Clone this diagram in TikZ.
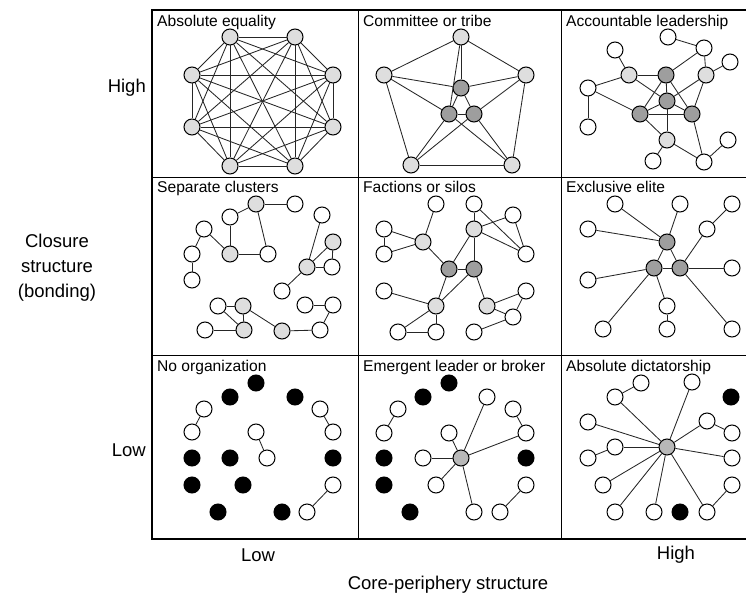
\documentclass[tikz,border=0pt]{standalone}
\usepackage{fontspec}
\setmainfont{Liberation Sans}
\definecolor{lightg}{gray}{0.87}
\definecolor{darkg}{gray}{0.62}
\definecolor{midg}{gray}{0.72}
\begin{document}
\begin{tikzpicture}[x=1pt,y=-1pt,
 nd/.style={circle,draw=black,line width=1pt,minimum size=16pt,inner sep=0pt,fill=white},
 wn/.style={nd},
 ln/.style={nd,fill=lightg},
 dn/.style={nd,fill=darkg},
 mn/.style={nd,fill=midg},
 bn/.style={nd,fill=black},
 ed/.style={line width=0.85pt,draw=black!85},
 ttl/.style={anchor=base west,inner sep=0pt,font=\fontsize{15.6}{18}\selectfont},
 axl/.style={font=\fontsize{18.5}{25}\selectfont,inner sep=0pt}]
\useasboundingbox (0,0) rectangle (746,596);
% grid
\draw[line width=0.9pt] (358,10) -- (358,539) (561,10) -- (561,539)
  (152,177) -- (746,177) (152,355) -- (746,355);
\draw[line width=2.3pt] (748,10) -- (152,10) -- (152,539) -- (748,539);
% titles
\node[ttl] (t1) at (157,27) {Absolute equality};
\node[ttl] (t2) at (363,27) {Committee or tribe};
\node[ttl] (t3) at (566,27) {Accountable leadership};
\node[ttl] (t4) at (157,193) {Separate clusters};
\node[ttl] (t5) at (363,193) {Factions or silos};
\node[ttl] (t6) at (566,193) {Exclusive elite};
\node[ttl] (t7) at (157,371) {No organization};
\node[ttl] (t8) at (363,371) {Emergent leader or broker};
\node[ttl] (t9) at (566,371) {Absolute dictatorship};
% axes
\node[axl,anchor=east] (yh) at (146,88) {High};
\node[axl,anchor=east] (yl) at (146,450) {Low};
\node[axl,align=center] (yt) at (57,268) {Closure\\structure\\(bonding)};
\node[axl] (xl) at (258,555) {Low};
\node[axl] (xh) at (676,555) {High};
\node[axl] (xt) at (448,585) {Core-periphery structure};

% Panel 1: complete graph
\node[ln] (q1) at (230,37) {};
\node[ln] (q2) at (295,37) {};
\node[ln] (q3) at (333,75) {};
\node[ln] (q4) at (333,127) {};
\node[ln] (q5) at (295,166) {};
\node[ln] (q6) at (230,166) {};
\node[ln] (q7) at (192,127) {};
\node[ln] (q8) at (192,75) {};
\foreach \i in {1,...,8}{\foreach \j in {1,...,8}{\ifnum\i<\j \draw[ed] (q\i) -- (q\j);\fi}}

% Panel 2: committee
\node[ln] (cT) at (461,37) {};
\node[ln] (cL) at (384,75) {};
\node[ln] (cR) at (526,75) {};
\node[ln] (cBL) at (411,165) {};
\node[ln] (cBR) at (512,165) {};
\node[dn] (cIT) at (461,88) {};
\node[dn] (cIL) at (449,114) {};
\node[dn] (cIR) at (474,114) {};
\foreach \a/\b in {cT/cL,cT/cR,cL/cBL,cR/cBR,cBL/cBR,cT/cIT,cT/cIL,cL/cIT,cL/cIL,cR/cIT,cR/cIR,cBL/cIL,cBL/cIR,cBR/cIL,cBR/cIR,cIT/cIL,cIT/cIR,cIL/cIR}
  \draw[ed] (\a) -- (\b);

% Panel 3: accountable leadership
\node[wn] (ra) at (668,37) {};
\node[wn] (rb) at (704,48) {};
\node[wn] (rc) at (615,50) {};
\node[wn] (rd) at (730,62) {};
\node[ln] (re) at (629,75) {};
\node[dn] (rf) at (666,75) {};
\node[ln] (rg) at (706,75) {};
\node[wn] (rh) at (588,88) {};
\node[dn] (ri) at (667,101) {};
\node[dn] (rj) at (640,114) {};
\node[dn] (rk) at (692,114) {};
\node[wn] (rl) at (588,127) {};
\node[ln] (rm) at (667,140) {};
\node[wn] (rn) at (728,140) {};
\node[wn] (ro) at (653,161) {};
\node[wn] (rp) at (704,162) {};
\foreach \a/\b in {ra/rb,rb/rf,rb/rg,rd/rg,rc/re,re/rf,re/rh,re/ri,rh/rl,rh/rj,rf/ri,rf/rj,rf/rk,rg/ri,rg/rk,ri/rj,ri/rk,rj/rk,ri/rm,rj/rm,rk/rp,rm/ro,rm/rp,rn/rp}
  \draw[ed] (\a) -- (\b);

% Panel 4: separate clusters
\node[ln] (dA) at (256,204) {};
\node[wn] (dB) at (295,204) {};
\node[wn] (dC) at (230,217) {};
\node[wn] (dD) at (204,229) {};
\node[wn] (dE) at (322,215) {};
\node[ln] (dF) at (333,242) {};
\node[ln] (dG) at (230,254) {};
\node[wn] (dH) at (268,254) {};
\node[wn] (dI) at (192,254) {};
\node[ln] (dJ) at (307,267) {};
\node[wn] (dK) at (332,267) {};
\node[wn] (dL) at (192,280) {};
\node[wn] (dM) at (282,291) {};
\node[wn] (dN) at (218,306) {};
\node[ln] (dO) at (243,306) {};
\node[wn] (dP) at (305,305) {};
\node[wn] (dQ) at (333,305) {};
\node[wn] (dR) at (205,330) {};
\node[ln] (dS) at (244,330) {};
\node[ln] (dT) at (282,331) {};
\node[wn] (dU) at (320,330) {};
\foreach \a/\b in {dA/dB,dA/dC,dA/dH,dC/dG,dG/dH,dG/dD,dD/dI,dI/dL,dE/dJ,dF/dJ,dF/dK,dJ/dK,dJ/dM,dN/dO,dO/dS,dN/dS,dR/dS,dO/dT,dT/dU,dU/dQ,dP/dQ}
  \draw[ed] (\a) -- (\b);

% Panel 5: factions
\node[wn] (ea) at (436,204) {};
\node[wn] (eb) at (474,204) {};
\node[wn] (ec) at (513,215) {};
\node[wn] (ed) at (384,229) {};
\node[ln] (ee) at (474,229) {};
\node[ln] (ef) at (423,242) {};
\node[wn] (eg) at (384,254) {};
\node[wn] (eh) at (526,254) {};
\node[dn] (ei) at (449,269) {};
\node[dn] (ej) at (474,269) {};
\node[wn] (ek) at (384,291) {};
\node[wn] (el) at (526,291) {};
\node[ln] (em) at (436,306) {};
\node[ln] (en) at (487,306) {};
\node[wn] (eo) at (513,317) {};
\node[wn] (ep) at (398,332) {};
\node[wn] (eq) at (436,332) {};
\node[wn] (er) at (474,332) {};
\foreach \a/\b in {ea/ef,ed/ef,eg/ef,ed/eg,ef/ei,ei/ej,ee/ej,ee/ei,eb/ee,ee/ec,ee/eh,ec/eh,eb/eh,ei/em,ej/em,ej/en,ek/em,em/eq,em/ep,ep/eq,en/el,en/eo,el/eo,er/eo}
  \draw[ed] (\a) -- (\b);

% Panel 6: exclusive elite
\node[wn] (fa) at (615,204) {};
\node[wn] (fb) at (680,204) {};
\node[wn] (fc) at (732,204) {};
\node[wn] (fd) at (588,229) {};
\node[wn] (fe) at (707,229) {};
\node[dn] (ff) at (667,242) {};
\node[dn] (fg) at (654,268) {};
\node[dn] (fh) at (680,268) {};
\node[wn] (fi) at (732,268) {};
\node[wn] (fj) at (588,280) {};
\node[wn] (fk) at (667,306) {};
\node[wn] (fl) at (603,329) {};
\node[wn] (fm) at (667,329) {};
\node[wn] (fn) at (732,329) {};
\foreach \a/\b in {fa/ff,fb/ff,fd/ff,ff/fg,ff/fh,fg/fh,fe/fh,fc/fe,fh/fi,fg/fj,fg/fk,fk/fm,fg/fl,fh/fn}
  \draw[ed] (\a) -- (\b);

% Panel 7: no organization
\node[bn] (g1) at (256,383) {};
\node[bn] (g2) at (230,397) {};
\node[bn] (g3) at (295,397) {};
\node[bn] (g4) at (192,458) {};
\node[bn] (g5) at (230,458) {};
\node[bn] (g6) at (333,458) {};
\node[bn] (g7) at (192,485) {};
\node[bn] (g8) at (243,485) {};
\node[bn] (g9) at (218,512) {};
\node[bn] (g10) at (282,512) {};
\node[wn] (ga1) at (204,409) {};
\node[wn] (ga2) at (192,432) {};
\node[wn] (gb1) at (256,432) {};
\node[wn] (gb2) at (267,458) {};
\node[wn] (gc1) at (320,409) {};
\node[wn] (gc2) at (333,432) {};
\node[wn] (gd1) at (333,485) {};
\node[wn] (gd2) at (307,512) {};
\foreach \a/\b in {ga1/ga2,gb1/gb2,gc1/gc2,gd1/gd2}
  \draw[ed] (\a) -- (\b);

% Panel 8: emergent leader
\node[bn] (hx1) at (449,383) {};
\node[bn] (hx2) at (423,397) {};
\node[bn] (hx3) at (384,458) {};
\node[bn] (hx4) at (384,485) {};
\node[bn] (hx5) at (410,512) {};
\node[bn] (hx6) at (526,458) {};
\node[wn] (ha1) at (398,409) {};
\node[wn] (ha2) at (384,433) {};
\node[wn] (hb1) at (513,409) {};
\node[wn] (hb2) at (526,433) {};
\node[mn] (hc) at (461,458) {};
\node[wn] (h1) at (487,397) {};
\node[wn] (h2) at (449,433) {};
\node[wn] (h3) at (423,458) {};
\node[wn] (h4) at (436,485) {};
\node[wn] (h5) at (474,512) {};
\node[wn] (hd1) at (526,485) {};
\node[wn] (hd2) at (500,512) {};
\foreach \a/\b in {ha1/ha2,hb1/hb2,hc/hb2,hc/h1,hc/h2,hc/h3,hc/h4,hc/h5,hd1/hd2}
  \draw[ed] (\a) -- (\b);

% Panel 9: absolute dictatorship
\node[mn] (kc) at (667,447) {};
\node[wn] (k1) at (641,383) {};
\node[wn] (k2) at (615,397) {};
\node[wn] (k3) at (692,382) {};
\node[bn] (kb1) at (731,397) {};
\node[wn] (k4) at (588,422) {};
\node[wn] (k5) at (707,421) {};
\node[wn] (k6) at (732,433) {};
\node[wn] (k7) at (615,447) {};
\node[wn] (k8) at (588,458) {};
\node[wn] (k9) at (732,458) {};
\node[wn] (k10) at (603,485) {};
\node[wn] (k11) at (732,485) {};
\node[wn] (k12) at (615,512) {};
\node[wn] (k13) at (654,512) {};
\node[bn] (kb2) at (680,512) {};
\node[wn] (k14) at (707,512) {};
\foreach \a/\b in {k1/k2,kc/k2,kc/k3,kc/k4,kc/k5,k5/k6,kc/k7,k7/k8,kc/k9,kc/k10,kc/k12,kc/k13,kc/k14,k14/k11}
  \draw[ed] (\a) -- (\b);
\end{tikzpicture}
\end{document}
